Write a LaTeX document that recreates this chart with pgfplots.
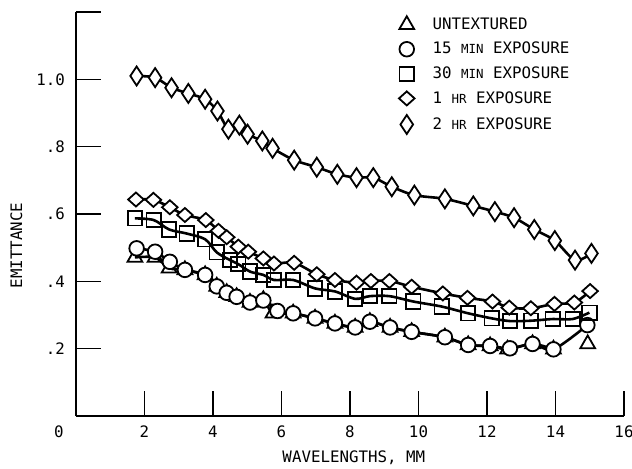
\documentclass[border=0pt]{standalone}
\usepackage{pgfplots}
\pgfplotsset{compat=1.18}
\usepackage{fontspec}
\setmainfont{DejaVu Sans Mono}
\newcommand{\sm}[1]{{\fontsize{12.5bp}{14bp}\selectfont #1}}
\pgfdeclareplotmark{wdiam}{%
  \pgfpathmoveto{\pgfqpoint{0bp}{7bp}}%
  \pgfpathlineto{\pgfqpoint{7.8bp}{0bp}}%
  \pgfpathlineto{\pgfqpoint{0bp}{-7bp}}%
  \pgfpathlineto{\pgfqpoint{-7.8bp}{0bp}}%
  \pgfpathclose\pgfusepathqfillstroke}
\pgfdeclareplotmark{tdiam}{%
  \pgfpathmoveto{\pgfqpoint{0bp}{9.5bp}}%
  \pgfpathlineto{\pgfqpoint{6.3bp}{0bp}}%
  \pgfpathlineto{\pgfqpoint{0bp}{-9.5bp}}%
  \pgfpathlineto{\pgfqpoint{-6.3bp}{0bp}}%
  \pgfpathclose\pgfusepathqfillstroke}
\begin{document}
\fontsize{15.8bp}{18bp}\selectfont
\begin{tikzpicture}[font=\fontsize{15.8bp}{18bp}\selectfont]
\begin{axis}[
  scale only axis, width=548bp, height=404bp,
  xmin=0, xmax=16, ymin=0, ymax=1.2,
  axis x line*=bottom, axis y line*=left,
  axis line style={line width=1.6bp},
  xtick={2,4,6,8,10,12,14,16}, xticklabels={2,4,6,8,10,12,14,16},
  ytick={0.2,0.4,0.6,0.8,1.0,1.2}, yticklabels={.2,.4,.6,.8,1.0,},
  tick align=inside, major tick length=25bp,
  every tick/.style={black, line width=1.6bp},
  xticklabel style={inner sep=0pt, anchor=north, yshift=-10bp},
  yticklabel style={inner sep=0pt, anchor=east, xshift=-11bp},
  /pgf/number format/assume math mode=true,
  xlabel={WAVELENGTHS, MM}, ylabel={EMITTANCE},
  every axis x label/.style={at={(rel axis cs:0.507,-0.104)}, anchor=center},
  every axis y label/.style={at={(rel axis cs:-0.1087,0.422)}, anchor=center, rotate=90},
  legend style={draw=none, fill=none, at={(rel axis cs:0.589,0.99)}, anchor=north west,
    inner sep=0pt, row sep=8.5bp, nodes={inner sep=1bp, anchor=west},
    /tikz/every odd column/.append style={column sep=17bp}},
  legend cell align=left,
  legend image code/.code={\draw[#1] plot[only marks] coordinates {(0bp,0bp)};},
  clip=false,
]
\addplot[black, line width=2.6bp, smooth, mark=triangle, mark size=8.5bp,
  mark options={fill=white, line width=1.8bp}] coordinates {
(1.72,0.471)(2.31,0.471)(2.72,0.439)(3.18,0.434)(3.77,0.419)(4.11,0.385)(4.40,0.366)(4.69,0.354)(5.08,0.337)(5.47,0.345)(5.75,0.305)(6.34,0.305)(6.98,0.290)(7.56,0.275)(8.15,0.263)(8.58,0.280)(9.17,0.263)(9.80,0.250)(10.77,0.234)(11.45,0.211)(12.09,0.208)(12.60,0.198)(13.33,0.214)(13.94,0.198)};
\addlegendentry{UNTEXTURED}
\addplot[black, line width=2.6bp, smooth, mark=*, mark size=7.3bp,
  mark options={fill=white, line width=1.8bp}] coordinates {
(1.77,0.498)(2.31,0.488)(2.74,0.458)(3.18,0.434)(3.77,0.419)(4.11,0.385)(4.40,0.366)(4.69,0.354)(5.08,0.337)(5.47,0.343)(5.88,0.312)(6.34,0.305)(6.98,0.290)(7.56,0.275)(8.15,0.263)(8.58,0.280)(9.17,0.263)(9.80,0.250)(10.77,0.234)(11.45,0.211)(12.09,0.208)(12.67,0.201)(13.33,0.214)(13.94,0.198)(14.93,0.270)};
\addlegendentry{15 \sm{MIN} EXPOSURE}
\addplot[black, line width=2.6bp, smooth, mark=square, mark size=7.2bp,
  mark options={fill=white, line width=1.8bp}] coordinates {
(1.72,0.587)(2.27,0.582)(2.72,0.554)(3.23,0.542)(3.77,0.525)(4.11,0.486)(4.50,0.463)(4.74,0.451)(5.08,0.429)(5.47,0.419)(5.78,0.404)(6.34,0.404)(6.98,0.379)(7.56,0.370)(8.15,0.348)(8.58,0.356)(9.15,0.356)(9.85,0.340)(10.68,0.325)(11.45,0.305)(12.14,0.290)(12.67,0.282)(13.28,0.283)(13.92,0.288)(14.50,0.288)(14.99,0.307)};
\addlegendentry{30 \sm{MIN} EXPOSURE}
\addplot[black, line width=2.6bp, smooth, mark=wdiam,
  mark options={fill=white, line width=1.8bp}] coordinates {
(1.75,0.643)(2.26,0.642)(2.74,0.620)(3.18,0.597)(3.79,0.582)(4.16,0.550)(4.40,0.531)(4.74,0.503)(5.03,0.488)(5.47,0.468)(5.78,0.453)(6.37,0.455)(7.03,0.421)(7.56,0.404)(8.19,0.396)(8.61,0.401)(9.15,0.401)(9.80,0.384)(10.71,0.364)(11.43,0.351)(12.16,0.340)(12.65,0.322)(13.28,0.320)(13.97,0.333)(14.55,0.337)(15.01,0.371)};
\addlegendentry{1 \sm{HR} EXPOSURE}
\addplot[black, line width=2.6bp, smooth, mark=tdiam,
  mark options={fill=white, line width=1.8bp}] coordinates {
(1.77,1.010)(2.31,1.005)(2.79,0.975)(3.28,0.958)(3.77,0.941)(4.13,0.906)(4.45,0.852)(4.77,0.864)(5.01,0.837)(5.44,0.817)(5.74,0.795)(6.37,0.760)(7.03,0.739)(7.63,0.718)(8.19,0.708)(8.68,0.708)(9.22,0.681)(9.88,0.656)(10.77,0.645)(11.60,0.624)(12.23,0.607)(12.79,0.589)(13.38,0.554)(13.98,0.521)(14.57,0.463)(15.05,0.483)};
\addlegendentry{2 \sm{HR} EXPOSURE}
\addplot[forget plot, only marks, black, mark=triangle, mark size=8.5bp,
  mark options={fill=white, line width=1.8bp}] coordinates {(14.94,0.214)};
\node[inner sep=0pt] at ([xshift=-17bp,yshift=-16bp]axis cs:0,0) {0};
\coordinate (sw) at (rel axis cs:0,0);
\coordinate (ne) at (rel axis cs:1,1);
\end{axis}
\pgfresetboundingbox
\path[use as bounding box] ([xshift=-76bp,yshift=-53bp]sw) rectangle ([xshift=8bp,yshift=12bp]ne);
\end{tikzpicture}
\end{document}
